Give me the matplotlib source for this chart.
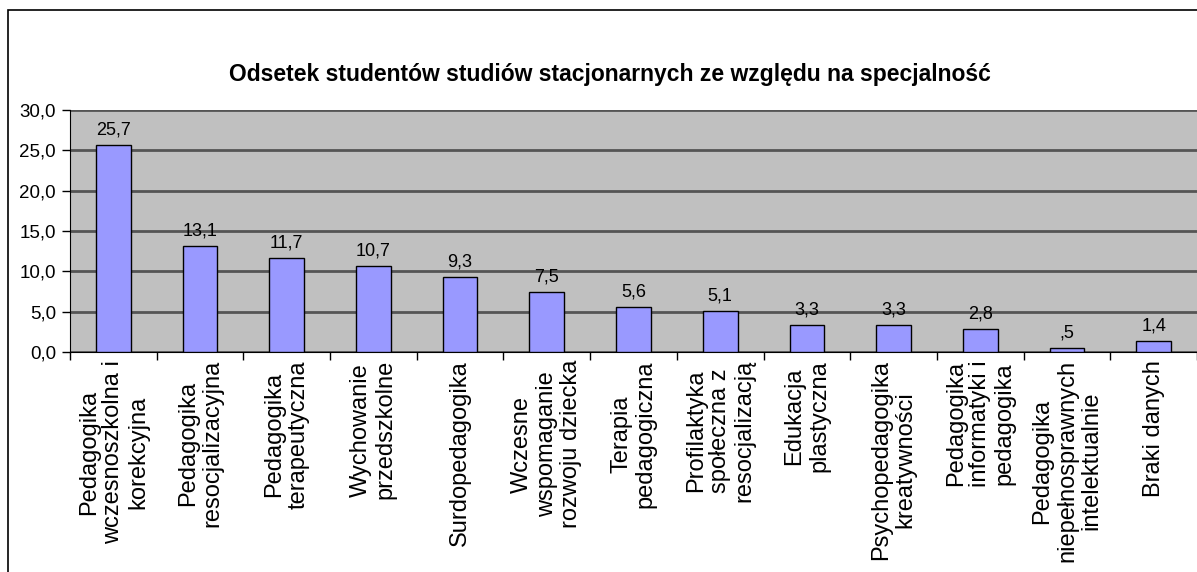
import matplotlib.pyplot as plt
import numpy as np

plt.rcParams['font.family'] = ['Liberation Sans', 'DejaVu Sans']

categories = ['Pedagogika\nwczesnoszkolna i\nkorekcyjna',
              'Pedagogika\nresocjalizacyjna',
              'Pedagogika\nterapeutyczna',
              'Wychowanie\nprzedszkolne',
              'Surdopedagogika',
              'Wczesne\nwspomaganie\nrozwoju dziecka',
              'Terapia\npedagogiczna',
              'Profilaktyka\nspołeczna z\nresocjalizacją',
              'Edukacja\nplastyczna',
              'Psychopedagogika\nkreatywności',
              'Pedagogika\ninformatyki i\npedagogika',
              'Pedagogika\nniepełnosprawnych\nintelektualnie',
              'Braki danych']
values = [25.7, 13.1, 11.7, 10.7, 9.3, 7.5, 5.6, 5.1, 3.3, 3.3, 2.8, 0.5, 1.4]
yticks = [0, 5, 10, 15, 20, 25, 30]


def fmt(v):
    s = f'{v:.1f}'.replace('.', ',')
    if s.startswith('0,') and v:
        s = s[1:]
    return s


fig = plt.figure(figsize=(11.97, 5.72), dpi=100)
ax = fig.add_axes([70 / 1197, 1 - 352 / 572, 1 - 70 / 1197, (352 - 110) / 572])
ax.set_facecolor('#c0c0c0')

x = np.arange(len(values))
ax.bar(x, values, width=0.4, color='#9999ff', edgecolor='black', linewidth=1, zorder=3)
for xi, v in zip(x, values):
    ax.text(xi, v + 0.8, fmt(v), ha='center', va='bottom', fontsize=13, zorder=4)

ax.set_xlim(-0.5, len(values) - 0.5)
ax.set_ylim(0, 30)
ax.set_yticks(yticks)
ax.set_yticklabels([fmt(t) for t in yticks], fontsize=13.5)
ax.yaxis.grid(True, color='#555555', linewidth=2, zorder=1)
ax.set_axisbelow(True)

ax.set_xticks(np.arange(len(values) + 1) - 0.5)
ax.set_xticklabels([])
ax.tick_params(axis='x', length=6, width=1, direction='out')
ax.tick_params(axis='y', length=6, width=1, direction='out', pad=4)
for xi, lab in zip(x, categories):
    ax.text(xi, -1.0, lab, ha='center', va='top', rotation=90,
            multialignment='center', fontsize=17, linespacing=1.15)

ax.spines['top'].set_visible(False)
ax.spines['right'].set_visible(False)
ax.spines['left'].set_color('black')
ax.spines['bottom'].set_color('black')

fig.text(610 / 1197, 1 - 75 / 572, 'Odsetek studentów studiów stacjonarnych ze względu na specjalność',
         ha='center', va='center', fontsize=16.5, fontweight='bold')

# outer chart border
fig.add_artist(plt.Rectangle((8 / 1197, -0.01), 1.0, 1 - 10 / 572 + 0.01,
                             transform=fig.transFigure, fill=False,
                             edgecolor='black', linewidth=1.2))

fig.savefig('out.png', dpi=100)
